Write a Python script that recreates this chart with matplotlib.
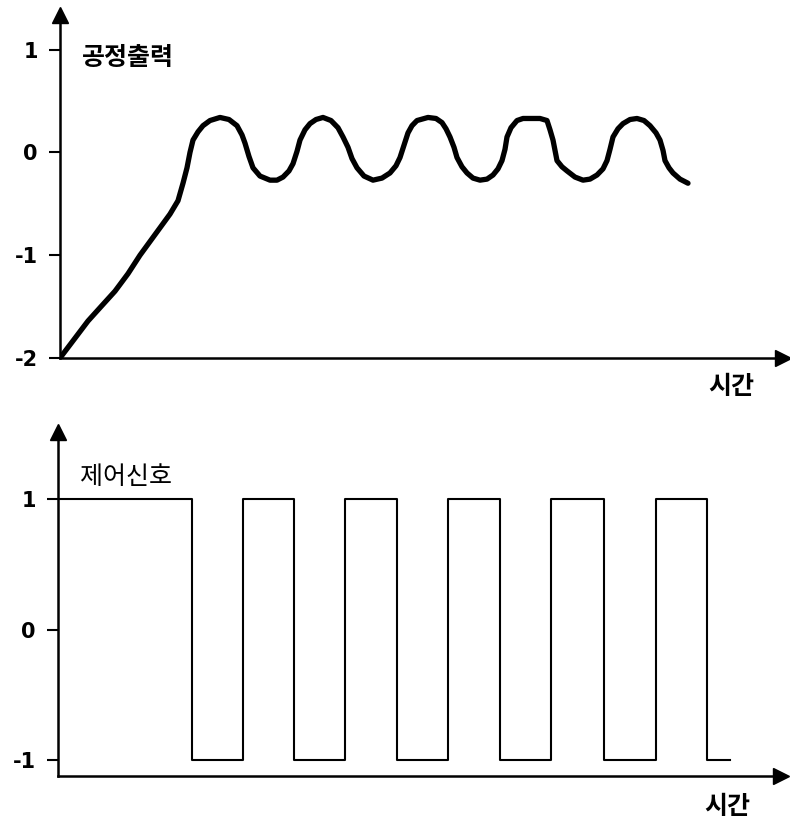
import matplotlib.pyplot as plt

plt.rcParams['font.family'] = ['Noto Sans CJK KR', 'DejaVu Sans']

# process output (time, value)
out_t = [0.0, 1.4, 2.8, 4.1, 5.5, 6.8, 8.0, 9.5, 11.0, 11.8, 12.3, 12.7, 13.0, 13.3, 13.8,
         14.3, 15.0, 16.0, 16.9, 17.7, 18.2, 18.5, 18.9, 19.3, 20.0, 21.0, 21.7, 22.3,
         22.9, 23.3, 23.7, 24.0, 24.5, 25.0, 25.6, 26.3, 27.1, 27.8, 28.3, 28.8, 29.2,
         29.7, 30.4, 31.3, 32.2, 33.0, 33.6, 34.0, 34.4, 34.8, 35.2, 35.7, 36.8, 37.6,
         38.2, 38.6, 39.0, 39.4, 39.7, 40.2, 40.7, 41.3, 42.0, 42.7, 43.3, 43.8, 44.2,
         44.5, 44.7, 45.1, 45.7, 46.3, 47.0, 48.0, 48.7, 49.0, 49.3, 49.5, 49.7, 50.2,
         50.7, 51.5, 52.3, 53.0, 53.7, 54.3, 54.7, 55.0, 55.3, 55.8, 56.3, 57.0, 57.7,
         58.4, 59.0, 59.6, 60.0, 60.3, 60.5, 60.9, 61.3, 62.0, 62.8]
out_v = [-2.0, -1.82, -1.64, -1.50, -1.35, -1.18, -1.0, -0.80, -0.60, -0.47, -0.30, -0.15,
         0.0, 0.12, 0.20, 0.26, 0.31, 0.34, 0.32, 0.26, 0.17, 0.09, -0.04, -0.15, -0.23,
         -0.27, -0.27, -0.24, -0.18, -0.11, 0.01, 0.12, 0.22, 0.28, 0.32, 0.34, 0.31, 0.24,
         0.15, 0.05, -0.06, -0.15, -0.23, -0.27, -0.25, -0.20, -0.13, -0.05, 0.07, 0.19,
         0.26, 0.31, 0.34, 0.33, 0.29, 0.23, 0.15, 0.05, -0.05, -0.14, -0.20, -0.25, -0.27,
         -0.26, -0.22, -0.16, -0.08, 0.03, 0.15, 0.24, 0.31, 0.33, 0.33, 0.33, 0.31, 0.22,
         0.12, 0.02, -0.08, -0.14, -0.18, -0.24, -0.27, -0.26, -0.22, -0.16, -0.08, 0.03,
         0.15, 0.23, 0.28, 0.32, 0.33, 0.31, 0.26, 0.19, 0.12, 0.02, -0.08, -0.15, -0.20,
         -0.26, -0.30]

# control signal switching times and levels
sw_t = [-0.2, 13.2, 18.3, 23.4, 28.5, 33.7, 38.8, 44.0, 49.1, 54.4, 59.6, 64.7, 67.0]
sw_v = [1, -1, 1, -1, 1, -1, 1, -1, 1, -1, 1, -1, -1]

W, H = 790, 818
fig = plt.figure(figsize=(W / 100, H / 100), dpi=100)


def px_axes(left, right, top, bottom):
    return fig.add_axes([left / W, 1 - bottom / H, (right - left) / W, (bottom - top) / H])


def style(ax, ticks):
    for s in ['top', 'right']:
        ax.spines[s].set_visible(False)
    for s in ['left', 'bottom']:
        ax.spines[s].set_linewidth(1.8)
    ax.set_yticks(ticks)
    ax.set_yticklabels([str(t) for t in ticks], fontsize=15, fontweight='bold',
                       family='DejaVu Sans')
    ax.tick_params(axis='y', direction='out', length=8, width=1.5, pad=8)
    ax.set_xticks([])
    ax.plot(1, 0, '>k', markersize=11, transform=ax.transAxes, clip_on=False)
    ax.plot(0, 1, '^k', markersize=11, transform=ax.transAxes, clip_on=False)


ax1 = px_axes(60, 783, 15, 358)
ax1.plot(out_t, out_v, color='black', lw=3.8, solid_capstyle='round', solid_joinstyle='round')
ax1.set_xlim(0, 72.3)
ax1.set_ylim(-2, (152 - 15) / 102.5)
style(ax1, [1, 0, -1, -2])

ax2 = px_axes(58, 781, 432, 776)
ax2.plot(sw_t, sw_v, color='black', lw=1.5, drawstyle='steps-post')
ax2.set_xlim(-0.2, 72.1)
ax2.set_ylim(-1.123, (630 - 432) / 130.5)
style(ax2, [1, 0, -1])

fig.text(82 / W, 1 - 58 / H, '공정출력', fontsize=18, fontweight='bold', va='center', ha='left')
fig.text(731 / W, 1 - 387 / H, '시간', fontsize=18, fontweight='bold', va='center', ha='center')
fig.text(80 / W, 1 - 477 / H, '제어신호', fontsize=18, fontweight='medium', va='center', ha='left')
fig.text(727 / W, 1 - 807 / H, '시간', fontsize=18, fontweight='bold', va='center', ha='center')

fig.savefig('out.png', dpi=100)
